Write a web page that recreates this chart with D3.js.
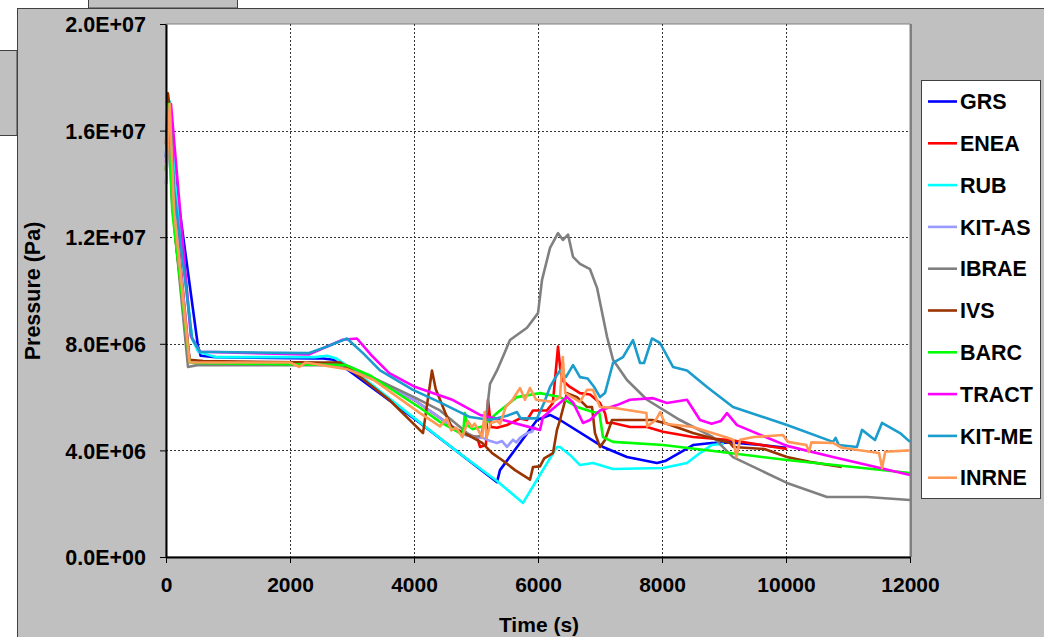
<!DOCTYPE html>
<html><head><meta charset="utf-8">
<script src="https://cdn.jsdelivr.net/npm/d3@7"></script>
<style>html,body{margin:0;padding:0;background:#fff;overflow:hidden}</style>
</head><body>
<svg id="c" width="1044" height="637"></svg>
<script>
// ---- data (time in s, pressure in MPa) ----
const seriesNames = ["GRS","ENEA","RUB","KIT-AS","IBRAE","IVS","BARC","TRACT","KIT-ME","INRNE"];
const seriesColors = ["#0000ff","#ff0000","#00ffff","#9999ff","#808080","#993300","#00ff00","#ff00ff","#1a9ccc","#ff9955"];
const xTicks = [0,2000,4000,6000,8000,10000,12000];
const yTicks = [0,4e6,8e6,1.2e7,1.6e7,2e7];
const yTickLabels = ["0.0E+00","4.0E+06","8.0E+06","1.2E+07","1.6E+07","2.0E+07"];

const grs = [[0,15.0],[30,16.8],[110,14.9],[516,7.9],[560,7.55],[800,7.5],[2400,7.45],[2532,7.45],[2700,7.4],[2919,7.05],[4097,5.03],[4700,3.95],[5339,2.81],[5387,3.26],[5710,4.28],[5984,5.14],[6194,5.33],[6355,5.14],[7048,4.13],[7435,3.75],[7919,3.53],[8050,3.6],[8500,4.2],[8800,4.28],[9100,4.3],[9600,4.2],[10000,4.1]];
const enea = [[0,14.5],[50,17.0],[120,13.8],[380,7.35],[2900,7.2],[4000,5.9],[4800,4.6],[5016,4.5],[5065,4.13],[5160,4.2],[5194,5.9],[5242,4.88],[5339,4.85],[5500,4.95],[5710,5.2],[5823,5.14],[5919,5.5],[6145,5.5],[6240,5.78],[6323,7.9],[6355,7.15],[6387,6.64],[6516,6.38],[6677,6.15],[6839,6.1],[7000,5.78],[7080,5.4],[7113,5.03],[7210,5.03],[7484,4.88],[7758,4.88],[8016,4.7],[8500,4.5],[9097,4.39],[10016,4.05]];
const rub = [[0,16.8],[60,17.1],[150,14.0],[420,8.2],[520,7.7],[800,7.5],[2400,7.5],[2600,7.55],[2750,7.45],[3000,7.05],[4097,5.05],[4700,3.95],[5339,2.85],[5758,2.03],[5984,2.9],[6306,4.13],[6355,4.13],[6516,3.83],[6677,3.45],[6887,3.53],[7210,3.3],[8016,3.34],[8403,3.53],[8613,3.9],[8800,4.2],[9000,4.25]];
const kitas = [[0,14.0],[50,16.5],[120,13.5],[380,7.35],[2900,7.2],[4000,5.9],[4800,4.6],[4950,4.5],[5113,4.47],[5230,4.35],[5339,4.28],[5420,4.35],[5500,4.13],[5560,4.3],[5597,4.4],[5650,4.3],[5710,4.47],[5760,4.55],[5823,4.65],[5903,4.7],[5960,4.9]];
const ibrae = [[0,14.5],[40,16.5],[90,13.5],[355,7.13],[500,7.2],[2900,7.2],[3000,7.1],[4000,6.0],[4419,5.5],[4742,4.88],[4855,4.65],[4984,4.5],[5080,4.55],[5177,5.5],[5226,6.5],[5339,7.0],[5450,7.6],[5548,8.14],[5823,8.6],[6000,9.15],[6065,10.4],[6194,11.6],[6323,12.15],[6403,11.9],[6484,12.1],[6565,11.26],[6677,11.0],[6839,10.8],[6952,10.1],[7113,8.27],[7210,7.4],[7435,6.64],[7758,5.9],[8290,5.14],[8823,4.5],[9145,3.75],[10016,2.78],[10661,2.25],[11306,2.25],[12000,2.14]];
const ivs = [[0,15.5],[30,17.4],[80,16.5],[150,12.0],[380,7.4],[600,7.35],[2500,7.3],[2806,7.3],[3000,7.0],[3600,5.9],[4145,4.65],[4290,7.0],[4350,6.3],[4532,5.25],[4610,4.88],[4850,4.6],[5100,4.28],[5260,3.9],[5420,3.64],[5630,3.26],[5871,2.9],[5920,3.38],[6032,3.4],[6100,3.7],[6242,3.9],[6306,4.77],[6355,5.14],[6468,6.15],[6629,6.0],[6790,5.63],[6871,5.63],[6919,4.65],[7000,4.13],[7081,4.39],[7194,5.14],[7400,5.14],[7850,5.14],[8080,5.0],[8500,4.65],[9097,4.28],[9150,4.13],[9650,4.05],[10016,3.75],[10380,3.57],[10900,3.38]];
const barc = [[0,14.5],[40,17.0],[100,13.0],[380,7.3],[500,7.28],[2900,7.2],[3300,6.8],[4097,5.6],[4419,5.07],[4742,4.65],[4790,4.55],[4820,5.4],[4860,4.95],[4950,4.8],[5100,4.9],[5339,5.4],[5661,6.0],[6032,6.15],[6355,6.0],[6629,5.63],[6887,5.44],[6990,5.4],[7048,4.5],[7210,4.32],[8016,4.2],[9097,3.9],[10016,3.64],[12000,3.15]];
const tract = [[0,14.8],[80,17.0],[400,8.3],[550,7.7],[2300,7.6],[2600,7.9],[2850,8.15],[3080,8.2],[3300,7.6],[3600,6.9],[4000,6.4],[4629,5.89],[5065,5.33],[5435,5.14],[6032,4.77],[6080,5.25],[6468,6.0],[6565,5.8],[6726,5.03],[6839,5.14],[7000,5.5],[7274,5.7],[7484,5.9],[7855,5.96],[8080,5.78],[8403,5.9],[8613,5.14],[8800,5.0],[8950,5.1],[9048,5.4],[9210,4.95],[10016,4.17],[10758,3.75],[12000,3.08]];
const kitme = [[0,14.0],[60,16.8],[120,14.0],[420,8.2],[550,7.7],[2300,7.65],[2600,7.9],[2919,8.2],[3177,7.65],[3452,7.0],[3984,6.27],[4419,5.8],[4903,5.25],[5226,5.14],[5500,5.3],[5661,5.44],[5720,5.2],[5984,5.2],[6100,5.8],[6194,6.38],[6306,6.83],[6355,7.0],[6450,6.75],[6565,7.2],[6677,6.75],[6800,6.7],[6900,6.4],[7000,6.0],[7080,6.15],[7210,7.28],[7371,7.5],[7532,8.14],[7645,7.28],[7710,7.28],[7839,8.2],[7968,8.03],[8177,7.13],[8403,7.0],[8726,6.38],[9145,5.63],[10016,4.95],[10758,4.32],[10800,4.47],[10850,4.2],[11145,4.13],[11226,4.77],[11435,4.39],[11548,5.03],[11839,4.65],[12000,4.32]];
const inrne = [[0,14.0],[60,17.0],[130,13.0],[380,7.3],[2000,7.3],[2150,7.13],[2250,7.3],[2919,7.05],[3350,6.64],[4097,5.4],[4419,4.9],[4530,5.2],[4600,4.75],[4680,4.85],[4780,4.5],[4870,5.1],[4930,4.88],[4980,5.0],[5050,4.7],[5100,4.5],[5140,5.44],[5170,4.47],[5240,5.03],[5340,5.1],[5390,5.0],[5480,5.63],[5590,5.9],[5710,6.34],[5790,5.9],[5870,6.34],[5970,5.9],[6240,5.82],[6355,6.0],[6400,7.5],[6440,6.15],[6677,5.82],[6790,6.27],[6887,6.27],[7000,5.63],[7210,5.6],[7750,5.4],[7760,4.9],[7900,5.14],[7970,5.44],[8050,5.0],[8500,4.88],[9097,4.45],[9150,4.39],[9200,3.75],[9260,4.4],[9480,4.5],[9950,4.58],[10030,4.32],[10330,4.2],[10370,3.94],[10410,4.3],[10758,4.28],[10900,4.1],[11500,3.9],[11550,3.34],[11600,3.95],[12000,4.0]];
const seriesData = [grs,enea,rub,kitas,ibrae,ivs,barc,tract,kitme,inrne];

// ---- drawing ----
const svg = d3.select("#c");
const font = "'Liberation Sans', Arial, sans-serif";
const grey = "#c0c0c0", edge = "#404040";

svg.append("rect").attr("x",88.5).attr("y",-2).attr("width",149).attr("height",10).attr("fill",grey).attr("stroke",edge);
svg.append("rect").attr("x",-2).attr("y",50.5).attr("width",19).attr("height",85).attr("fill",grey).attr("stroke",edge);
svg.append("rect").attr("x",17.5).attr("y",8.5).attr("width",1040).attr("height",640).attr("fill",grey).attr("stroke",edge);

const L=166, R=910, T=24, B=557;
const x = d3.scaleLinear().domain([0,12000]).range([L,R]);
const y = d3.scaleLinear().domain([0,2e7]).range([B,T]);

svg.append("rect").attr("x",L).attr("y",T).attr("width",R-L).attr("height",B-T).attr("fill","#fff").attr("stroke","#808080").attr("stroke-width",1);
svg.append("line").attr("x1",R+1).attr("x2",R+1).attr("y1",T).attr("y2",B).attr("stroke","#808080").attr("stroke-width",2);

// gridlines
const g = svg.append("g");
xTicks.filter(t=>t>0 && t<12000).forEach(t=>{
  g.append("line").attr("x1",Math.round(x(t))+0.5).attr("x2",Math.round(x(t))+0.5).attr("y1",T).attr("y2",B)
   .attr("stroke","#333").attr("stroke-dasharray","2,2").attr("stroke-width",1);
});
yTicks.filter(t=>t>0 && t<2e7).forEach(t=>{
  g.append("line").attr("y1",Math.round(y(t))+0.5).attr("y2",Math.round(y(t))+0.5).attr("x1",L).attr("x2",R)
   .attr("stroke","#333").attr("stroke-dasharray","2,2").attr("stroke-width",1);
});

// series
const line = d3.line().x(d=>x(d[0])).y(d=>y(d[1]*1e6));
const plot = svg.append("g");
seriesData.forEach((s,i)=>{
  plot.append("path").datum(s).attr("d",line).attr("fill","none")
    .attr("stroke",seriesColors[i]).attr("stroke-width",2.6).attr("stroke-linejoin","round");
});

// axes
const xAxis = d3.axisBottom(x).tickValues(xTicks).tickSize(6).tickSizeOuter(0).tickFormat(d3.format("d"));
const yAxis = d3.axisLeft(y).tickValues(yTicks).tickSize(6).tickSizeOuter(0).tickFormat((d,i)=>yTickLabels[i]);
const gx = svg.append("g").attr("transform",`translate(0,${B})`).call(xAxis);
const gy = svg.append("g").attr("transform",`translate(${L},0)`).call(yAxis);
[gx,gy].forEach(a=>{
  a.select(".domain").attr("stroke","#000").attr("stroke-width",2);
  a.selectAll(".tick line").attr("stroke","#000");
  a.selectAll("text").attr("fill","#000").attr("font-family",font).attr("font-weight","bold");
});
gx.selectAll("text").attr("font-size",21).attr("y",10).attr("dy","1.2em");
gy.selectAll("text").attr("font-size",21.5).attr("x",-20).attr("dy","0.36em");

svg.append("text").attr("x",539).attr("y",632).attr("text-anchor","middle")
  .attr("font-family",font).attr("font-weight","bold").attr("font-size",21).text("Time (s)");
svg.append("text").attr("transform","translate(40,291) rotate(-90)").attr("text-anchor","middle")
  .attr("font-family",font).attr("font-weight","bold").attr("font-size",21.5).text("Pressure (Pa)");

// legend
const lg = svg.append("g");
lg.append("rect").attr("x",921.5).attr("y",80.5).attr("width",119).attr("height",418).attr("fill","#fff").attr("stroke",edge);
seriesNames.forEach((n,i)=>{
  const cy = 101.5 + i*41.8;
  lg.append("line").attr("x1",928).attr("x2",957).attr("y1",cy).attr("y2",cy).attr("stroke",seriesColors[i]).attr("stroke-width",2.6);
  lg.append("text").attr("x",960).attr("y",cy).attr("dy","0.36em").attr("font-family",font).attr("font-weight","bold")
    .attr("font-size",21.5).attr("fill","#000").text(n);
});
</script>
</body></html>
